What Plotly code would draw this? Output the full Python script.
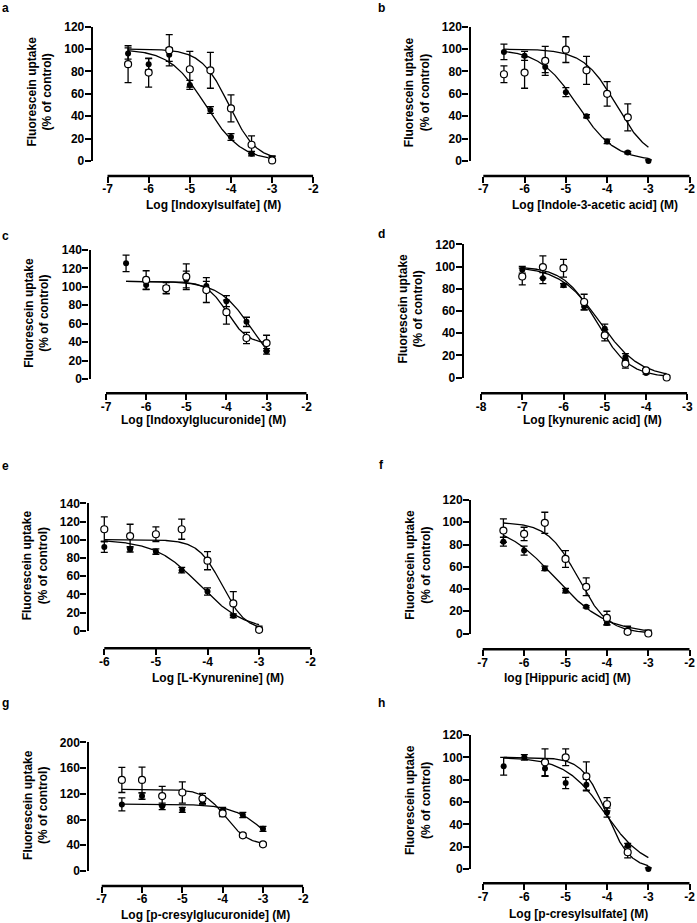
import numpy as np
import plotly.graph_objects as go

W, H = 697, 923

# ---------------- data ----------------
conc = [-6.5, -6.0, -5.5, -5.0, -4.5, -4.0, -3.5, -3.0]
conc_d = [-7.0, -6.5, -6.0, -5.5, -5.0, -4.5, -4.0, -3.5]
conc_e = [-6.0, -5.5, -5.0, -4.5, -4.0, -3.5, -3.0]

# fit params: [top, bottom, logIC50, hill]
a_closed = [96, 86.5, 95, 68, 45.5, 21.5, 6.5, 2]
a_closed_err = [5, 5, 6, 4, 3, 3, 2, 2]
a_open = [86.5, 79, 99, 82, 81, 47, 14.5, 0.5]
a_open_err = [16.5, 13, 14, 16, 16, 12, 8, 4]
a_fit_closed = [100, 0, -4.62, 1.0]
a_fit_open = [100, 0, -4.05, 1.3]

b_closed = [97.5, 94, 84, 61.5, 40, 17.5, 7.5, 0]
b_closed_err = [7, 4, 5, 4, 1.5, 2, 1, 1]
b_open = [77.5, 79, 89.5, 99.5, 81, 60, 39, None]
b_open_err = [7.5, 14, 13, 11.5, 12.5, 11, 12, 0]
b_fit_closed = [100, 0, -4.72, 0.95]
b_fit_open = [100, 0, -3.78, 1.1]

c_closed = [125.5, 102, 97, 108, 101, 84.5, 62, 30]
c_closed_err = [9, 5, 4, 9, 5, 6, 5, 3]
c_open = [None, 107.5, 98.5, 111, 96.5, 72.5, 44.5, 39]
c_open_err = [0, 10, 6, 14, 13.5, 13, 6, 8.5]
c_fit_closed = [106, 0, -3.35, 1.05]
c_fit_open = [106, 38, -3.98, 1.7]

d_closed = [97, 89.5, 83, 64, 44, 18.5, 4, 0.5]
d_closed_err = [3, 5, 1.5, 3, 4, 3, 1, 1]
d_open = [91, 99.5, 98.5, 68, 38, 12.5, 6.5, 0]
d_open_err = [7.5, 10, 8, 7, 5, 4, 1.5, 2]
d_fit_closed = [100, 0, -5.12, 0.9]
d_fit_open = [100, 0, -5.2, 1.1]

e_closed = [92, 89.5, 87, 66.5, 43, 16.5, 1.5]
e_closed_err = [6, 3, 3, 3, 4, 2, 2]
e_open = [111.5, 104, 106, 111.5, 77, 30, 1]
e_open_err = [13.5, 13, 8, 11, 10, 13, 4]
e_fit_closed = [100, 0, -4.15, 1.0]
e_fit_open = [100, 0, -3.72, 1.9]

f_closed = [82.5, 74.5, 58.5, 38.5, 24, 9.5, 3, 1]
f_closed_err = [4, 4, 2, 2, 1, 2, 1, 1]
f_open = [92.5, 89.5, 99.5, 67, 42, 14, 1.5, 0]
f_open_err = [10.5, 6, 9.5, 7.5, 8, 6, 5, 3]
f_fit_closed = [100, 0, -5.25, 0.7]
f_fit_open = [100, 0, -4.7, 1.2]

g_closed = [103.5, 116.5, 100.5, 95, 108, 94, 87, 65.5]
g_closed_err = [10, 5, 5, 4, 4, 5, 4, 4]
g_open = [141.5, 141.5, 116.5, 122, 112.5, 89.5, 55.5, 41.5]
g_open_err = [19.5, 20, 15, 16.5, 8, 5, 3, 2]
g_fit_closed = [104, 0, -2.8, 1.0]
g_fit_open = [127, 40, -3.92, 1.57]

h_closed = [92, 100, 90, 77, 75.5, 50.5, 21, 0]
h_closed_err = [8, 2.5, 7, 5, 5, 4, 2, 1]
h_open = [None, None, 95.5, 100, 83, 58, 15, None]
h_open_err = [0, 0, 12, 7.5, 13, 6, 5, 0]
h_fit_closed = [100, 0, -4.05, 0.9]
h_fit_open = [100, 0, -4.02, 1.5]

xticks_7 = [-7, -6, -5, -4, -3, -2]
xticks_8 = [-8, -7, -6, -5, -4, -3]
xticks_6 = [-6, -5, -4, -3, -2]
yticks_120 = [0, 20, 40, 60, 80, 100, 120]
yticks_140 = [0, 20, 40, 60, 80, 100, 120, 140]
yticks_200 = [0, 40, 80, 120, 160, 200]

xlabels = [
    "Log [Indoxylsulfate] (M)",
    "Log [Indole-3-acetic acid] (M)",
    "Log [Indoxylglucuronide] (M)",
    "Log [kynurenic acid] (M)",
    "Log [L-Kynurenine] (M)",
    "log [Hippuric acid] (M)",
    "Log [p-cresylglucuronide] (M)",
    "Log [p-cresylsulfate] (M)",
]
panel_letters = ["a", "b", "c", "d", "e", "f", "g", "h"]
ytitle = "Fluorescein uptake<br>(% of control)"

panels = [
    (conc, a_closed, a_closed_err, a_open, a_open_err, a_fit_closed, a_fit_open, xticks_7, yticks_120),
    (conc, b_closed, b_closed_err, b_open, b_open_err, b_fit_closed, b_fit_open, xticks_7, yticks_120),
    (conc, c_closed, c_closed_err, c_open, c_open_err, c_fit_closed, c_fit_open, xticks_7, yticks_140),
    (conc_d, d_closed, d_closed_err, d_open, d_open_err, d_fit_closed, d_fit_open, xticks_8, yticks_120),
    (conc_e, e_closed, e_closed_err, e_open, e_open_err, e_fit_closed, e_fit_open, xticks_6, yticks_140),
    (conc, f_closed, f_closed_err, f_open, f_open_err, f_fit_closed, f_fit_open, xticks_7, yticks_120),
    (conc, g_closed, g_closed_err, g_open, g_open_err, g_fit_closed, g_fit_open, xticks_7, yticks_200),
    (conc, h_closed, h_closed_err, h_open, h_open_err, h_fit_closed, h_fit_open, xticks_7, yticks_120),
]

# ---------------- layout geometry (pixels) ----------------
# (y-axis x, y-axis top px, y-axis zero px, x-axis y px, x-axis left px, x-axis right px)
geom = [
    (91.7, 26.7, 161.0, 176.0, 107.5, 313.3),
    (469.3, 26.7, 161.0, 176.0, 483.3, 689.7),
    (89.3, 250.0, 379.0, 393.3, 106.0, 306.7),
    (462.7, 244.3, 377.5, 393.3, 481.0, 687.3),
    (87.3, 503.3, 630.7, 648.3, 104.3, 310.7),
    (470.0, 500.0, 633.5, 649.3, 482.7, 689.7),
    (87.3, 742.3, 871.0, 886.0, 101.7, 303.3),
    (470.0, 735.0, 869.0, 883.3, 483.0, 689.7),
]
xtitle_pos = [(214, 205), (595, 205), (203, 420), (592, 420),
              (218, 678), (567, 678), (205, 915), (578, 914)]
letter_pos = [(5, 8), (381, 8), (5, 236), (381, 234),
              (5, 466), (381, 465), (5, 703), (381, 703)]

FONT = "Liberation Sans, Arial, sans-serif"
AXW = 2.4


def px(x):
    return x / W


def py(y):
    return 1 - y / H


def sig(x, p):
    top, bottom, ic, hill = p
    return bottom + (top - bottom) / (1 + 10 ** (hill * (x - ic)))


fig = go.Figure()
annotations = []
shapes = []
for i, (xs, cl, cle, op, ope, fc, fo, xt, yt) in enumerate(panels):
    n = "" if i == 0 else str(i + 1)
    xa, ya = "x" + n, "y" + n
    xx = np.linspace(xs[0], xs[-1], 300)
    for p in (fc, fo):
        fig.add_trace(go.Scatter(x=xx, y=sig(xx, p), mode="lines",
                                 line=dict(color="black", width=1.3),
                                 xaxis=xa, yaxis=ya, hoverinfo="skip"))
    fig.add_trace(go.Scatter(
        x=xs, y=cl, mode="markers", xaxis=xa, yaxis=ya, cliponaxis=False,
        marker=dict(symbol="circle", size=6, color="black"),
        error_y=dict(type="data", array=cle, color="black", thickness=1.3, width=3.5)))
    fig.add_trace(go.Scatter(
        x=xs, y=op, mode="markers", xaxis=xa, yaxis=ya, cliponaxis=False,
        marker=dict(symbol="circle", size=7, color="white", line=dict(color="black", width=1.2)),
        error_y=dict(type="data", array=ope, color="black", thickness=1.3, width=3.5)))

    yx, ytop, y0, xly, xl, xr = geom[i]
    scale = (xr - xl) / (xt[-1] - xt[0])
    dom_left = yx + AXW / 2
    range_left = xt[0] - (xl - dom_left) / scale
    tickstyle = dict(ticks="outside", ticklen=6, tickwidth=AXW, tickcolor="black",
                     showgrid=False, zeroline=False, automargin=False,
                     tickfont=dict(family=FONT, size=12, color="black", weight="bold"))
    fig.layout["xaxis" + n] = dict(
        domain=[px(dom_left), px(xr)], range=[range_left, xt[-1]],
        anchor="free", position=py(xly), showline=False,
        tickvals=xt, ticktext=[str(v) for v in xt], ticklabelstandoff=-4, **tickstyle)
    fig.layout["yaxis" + n] = dict(
        domain=[py(y0), py(ytop)], range=[yt[0], yt[-1]], anchor=xa,
        showline=True, linecolor="black", linewidth=AXW,
        tickvals=yt, ticktext=[str(v) for v in yt], ticklabelstandoff=-2, **tickstyle)

    # x-axis line spanning only first..last tick (GraphPad-style offset axes)
    shapes.append(dict(type="line", xref=xa, yref="paper", x0=xt[0], x1=xt[-1],
                       y0=py(xly), y1=py(xly), line=dict(color="black", width=AXW)))

    annotations.append(dict(
        x=px(yx - 52), y=py((ytop + y0) / 2 - 2), xref="paper", yref="paper",
        text=ytitle, textangle=-90, showarrow=False, xanchor="center", yanchor="middle",
        font=dict(family=FONT, size=12, color="black", weight="bold")))
    tx, ty = xtitle_pos[i]
    annotations.append(dict(
        x=px(tx), y=py(ty), xref="paper", yref="paper", text=xlabels[i],
        showarrow=False, xanchor="center", yanchor="middle",
        font=dict(family=FONT, size=12, color="black", weight="bold")))
    lx, ly = letter_pos[i]
    annotations.append(dict(
        x=px(lx), y=py(ly), xref="paper", yref="paper", text=panel_letters[i],
        showarrow=False, xanchor="center", yanchor="middle",
        font=dict(family=FONT, size=12, color="black", weight="bold")))

fig.update_layout(width=W, height=H, margin=dict(l=0, r=0, t=0, b=0, autoexpand=False),
                  paper_bgcolor="white", plot_bgcolor="white",
                  showlegend=False, annotations=annotations, shapes=shapes)

fig.write_html("out.html", config={"displayModeBar": False},
               post_script="document.body.style.margin='0';")
